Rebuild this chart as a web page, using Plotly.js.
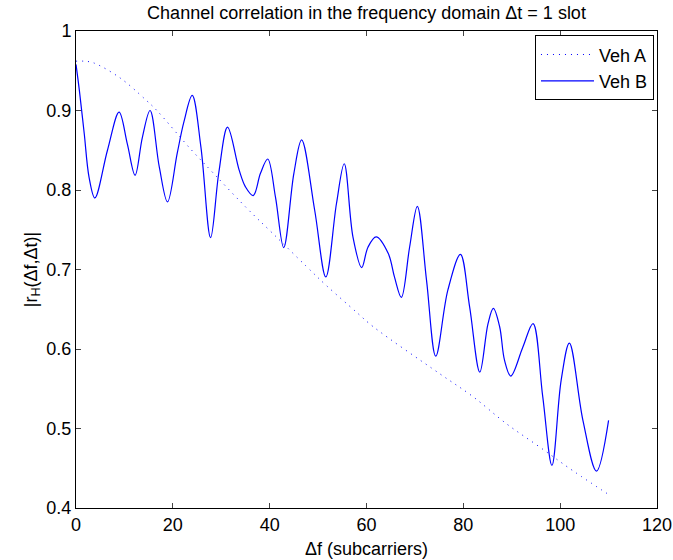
<!DOCTYPE html>
<html>
<head>
<meta charset="utf-8">
<script src="https://cdn.plot.ly/plotly-3.0.1.min.js"></script>
<style>
  html, body { margin: 0; padding: 0; background: #fff; }
  #chart { width: 673px; height: 560px; }
</style>
</head>
<body>
<div id="chart"></div>
<script>
// Frequency offset in subcarriers and |r_H| for the two channel models
const vehA_df = [0, 1.7, 3.6, 9.1, 14.3, 16.7, 23.6, 28.4, 35.3, 40.7, 47.4, 51.5, 57.8, 61.4, 75.1, 82, 88.9, 95.7, 102.6, 110];
const vehA_r  = [0.962, 0.962, 0.960, 0.941, 0.914, 0.900, 0.852, 0.821, 0.777, 0.745, 0.705, 0.681, 0.647, 0.628, 0.569, 0.540, 0.506, 0.477, 0.447, 0.417];

const vehB_df = [0, 0.7, 1.7, 2.7, 3.9, 6.5, 8.9, 10.6, 12.2, 13.7, 15.3, 17.2, 18.9, 20.9, 22.3, 24.0, 25.8, 27.8,
                 29.5, 31.3, 33.7, 35.0, 36.6, 38.1, 39.6, 41.2, 42.9, 45.0, 46.6, 49.3, 51.6, 53.8, 55.4, 57.2, 59.0,
                 60.3, 62.0, 64.5, 65.8, 67.2, 68.9, 70.5, 72.4, 74.3, 76.8, 79.4, 81.3, 83.4, 85.1, 86.2, 87.5, 88.5,
                 89.8, 92.3, 94.4, 96.4, 98.3, 100.2, 101.9, 104.7, 107.5, 110];
const vehB_r  = [0.958, 0.925, 0.871, 0.816, 0.790, 0.850, 0.898, 0.858, 0.8185, 0.866, 0.900, 0.829, 0.785, 0.846, 0.886, 0.919, 0.854, 0.740,
                 0.822, 0.879, 0.825, 0.804, 0.793, 0.821, 0.839, 0.791, 0.7275, 0.821, 0.863, 0.7745, 0.6906, 0.783, 0.833, 0.741, 0.7024,
                 0.728, 0.741, 0.720, 0.690, 0.665, 0.728, 0.7795, 0.6864, 0.591, 0.674, 0.719, 0.653, 0.571, 0.632, 0.651, 0.628, 0.586,
                 0.566, 0.6025, 0.632, 0.540, 0.4537, 0.5606, 0.6075, 0.5103, 0.4465, 0.5103];

const xTicks = [0, 20, 40, 60, 80, 100, 120];
const yTicks = [0.4, 0.5, 0.6, 0.7, 0.8, 0.9, 1];

const FONT = 'Liberation Sans, Arial, Helvetica, sans-serif';

const traces = [
  {
    x: vehA_df, y: vehA_r, name: 'Veh A', type: 'scatter', mode: 'lines',
    line: { color: '#0000ff', width: 1, dash: '1px,5px', shape: 'spline', smoothing: 1 }
  },
  {
    x: vehB_df, y: vehB_r, name: 'Veh B', type: 'scatter', mode: 'lines',
    line: { color: '#0000ff', width: 1.2, shape: 'spline', smoothing: 1 }
  }
];

const axisCommon = {
  showgrid: false, zeroline: false,
  showline: true, linecolor: '#000', linewidth: 1, mirror: 'ticks',
  ticks: 'inside', ticklen: 5, tickcolor: '#444', tickwidth: 1,
  tickfont: { family: FONT, size: 18, color: '#000' }
};

const layout = {
  width: 673, height: 560,
  margin: { l: 76, r: 16, t: 31, b: 52 },
  paper_bgcolor: '#fff', plot_bgcolor: '#fff',
  font: { family: FONT, size: 18, color: '#000' },
  title: {
    text: 'Channel correlation in the frequency domain \u0394t = 1 slot',
    font: { family: FONT, size: 18, color: '#000' },
    x: 0.5, xref: 'paper', xanchor: 'center',
    y: 1 - 13 / 560, yref: 'container', yanchor: 'middle'
  },
  xaxis: Object.assign({}, axisCommon, {
    range: [0, 120], tickvals: xTicks, ticktext: xTicks.map(String),
    title: { text: '\u0394f (subcarriers)', font: { family: FONT, size: 18, color: '#000' }, standoff: 8 }
  }),
  yaxis: Object.assign({}, axisCommon, {
    range: [0.4, 1], tickvals: yTicks, ticktext: yTicks.map(String),
    title: { text: '|r<sub>H</sub>(\u0394f,\u0394t)|', font: { family: FONT, size: 18, color: '#000' }, standoff: 4 }
  }),
  showlegend: true,
  legend: {
    x: 0.9948, y: 0.991, xanchor: 'right', yanchor: 'top',
    bgcolor: '#fff', bordercolor: '#000', borderwidth: 1,
    itemwidth: 53,
    font: { family: FONT, size: 18, color: '#000' }
  }
};

Plotly.newPlot('chart', traces, layout, { displayModeBar: false, staticPlot: true });
</script>
</body>
</html>
